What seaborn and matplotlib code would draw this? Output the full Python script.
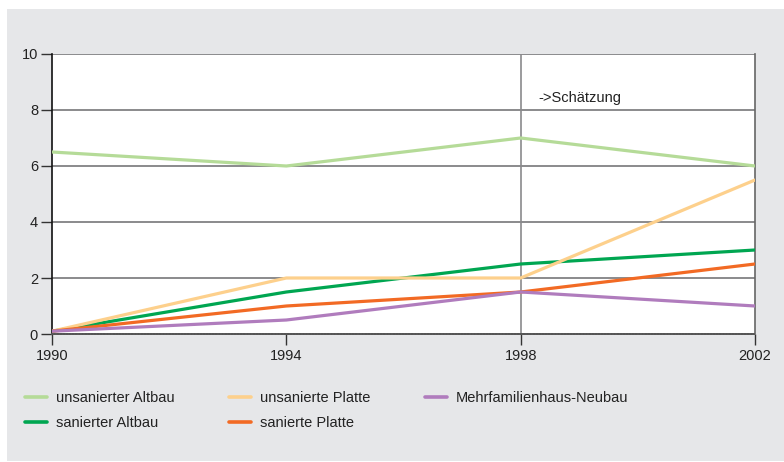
import matplotlib
matplotlib.use("Agg")
import matplotlib.pyplot as plt
import seaborn as sns
import pandas as pd
from matplotlib.patches import Rectangle
from matplotlib.lines import Line2D

years = [1990, 1994, 1998, 2002]
unsanierter_altbau = [6.5, 6.0, 7.0, 6.0]
sanierter_altbau = [0.1, 1.5, 2.5, 3.0]
unsanierte_platte = [0.1, 2.0, 2.0, 5.5]
sanierte_platte = [0.1, 1.0, 1.5, 2.5]
mfh_neubau = [0.1, 0.5, 1.5, 1.0]

series = {
    "unsanierter Altbau": unsanierter_altbau,
    "sanierter Altbau": sanierter_altbau,
    "unsanierte Platte": unsanierte_platte,
    "sanierte Platte": sanierte_platte,
    "Mehrfamilienhaus-Neubau": mfh_neubau,
}
colors = {
    "unsanierter Altbau": "#b5db98",
    "sanierter Altbau": "#00a651",
    "unsanierte Platte": "#fdd08c",
    "sanierte Platte": "#f26a24",
    "Mehrfamilienhaus-Neubau": "#b07cbd",
}
yticks = [0, 2, 4, 6, 8, 10]
xticks = [1990, 1994, 1998, 2002]

rows = []
for name, vals in series.items():
    for y, v in zip(years, vals):
        rows.append({"Jahr": y, "Wert": v, "Serie": name})
df = pd.DataFrame(rows)

sns.set_theme(style="white")
plt.rcParams["font.family"] = ["Liberation Sans", "DejaVu Sans"]
FS = 10.5

fig = plt.figure(figsize=(7.84, 4.62), dpi=100)
fig.patch.set_facecolor("white")
bg = Rectangle((7 / 784, 0.002), 1 - 7 / 784, (462 - 9) / 462 - 0.002,
               transform=fig.transFigure, facecolor="#e6e7e9",
               edgecolor="none", zorder=-10)
fig.add_artist(bg)

ax = fig.add_axes([52 / 784, (462 - 334) / 462, (755 - 52) / 784, (334 - 54) / 462])
ax.set_zorder(1)
ax.set_facecolor("white")

for yv in [2, 4, 6, 8, 10]:
    ax.axhline(yv, color="#8a8a8c", lw=1.4, zorder=1)
ax.axvline(1998, color="#8a8a8c", lw=1.2, zorder=1)

sns.lineplot(data=df, x="Jahr", y="Wert", hue="Serie", palette=colors,
             linewidth=2.3, ax=ax, legend=False, zorder=3,
             hue_order=list(series.keys()))

ax.set_xlim(1990, 2002)
ax.set_ylim(0, 10)
ax.set_xticks(xticks)
ax.set_yticks(yticks)
ax.set_xticklabels([str(x) for x in xticks])
ax.set_yticklabels([str(y) for y in yticks])
ax.set_xlabel("")
ax.set_ylabel("")
ax.tick_params(axis="both", labelsize=FS, colors="#222222", length=8, width=1,
               direction="out")
ax.tick_params(axis="x", pad=3, color="#333333")
ax.tick_params(axis="y", pad=2, color="#333333")
ax.tick_params(left=True, bottom=True)

ax.spines["top"].set_visible(False)
ax.spines["left"].set_color("#111111")
ax.spines["left"].set_linewidth(1.2)
ax.spines["right"].set_color("#666666")
ax.spines["right"].set_linewidth(1.2)
ax.spines["bottom"].set_color("#555555")
ax.spines["bottom"].set_linewidth(1.4)
ax.spines["bottom"].set_linestyle((0, (1, 0.6)))

ax.text(1998.3, 8.43, "->Schätzung", fontsize=FS, color="#222222", va="center")

handles = [Line2D([0], [0], color=colors[n], lw=2.6) for n in series]
leg = fig.legend(handles, list(series.keys()), ncol=3, frameon=False,
                 loc="upper left", bbox_to_anchor=(25 / 784, 1 - 391 / 462),
                 fontsize=FS, borderpad=0, borderaxespad=0,
                 handlelength=1.5, handletextpad=0.62,
                 columnspacing=3.75, labelspacing=0.78, labelcolor="#222222")

fig.savefig("out.png", dpi=100)
